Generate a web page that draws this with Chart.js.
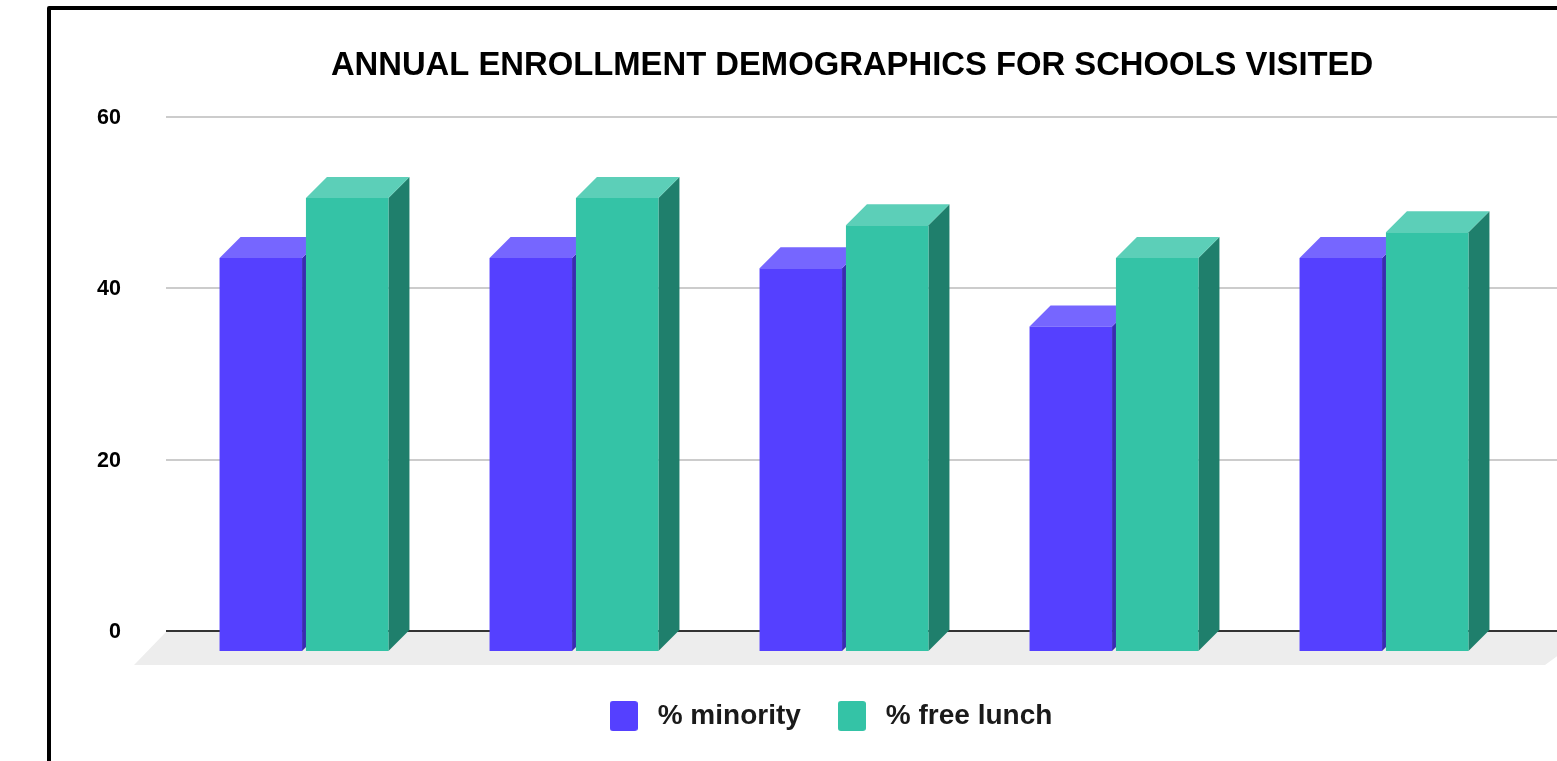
<!DOCTYPE html>
<html>
<head>
<meta charset="utf-8">
<style>
html,body{margin:0;padding:0;background:#fff;overflow:hidden;width:1557px;height:761px}
#wrap{position:relative;width:1557px;height:761px;overflow:hidden}
canvas{position:absolute;left:0;top:0}
#frame{position:absolute;left:47px;top:6px;width:1600px;height:900px;border:4px solid #000;border-radius:2px;pointer-events:none}
</style>
<script src="https://cdn.jsdelivr.net/npm/chart.js@4"></script>
</head>
<body>
<div id="wrap"><canvas id="c" width="1557" height="761"></canvas><div id="frame"></div></div>
<script>
const titleText = 'ANNUAL ENROLLMENT DEMOGRAPHICS FOR SCHOOLS VISITED';
const categories = ['School 1', 'School 2', 'School 3', 'School 4', 'School 5'];
const minority = [46, 46, 44.8, 38, 46];
const freeLunch = [53, 53, 49.8, 46, 49];
const yTicks = [0, 20, 40, 60];

const FONT = '"Liberation Sans", Arial, sans-serif';
const DEPTH = 21;
const faces = [
  { front: '#5540FF', top: '#7666FF', side: '#3A2BB0' },
  { front: '#34C3A6', top: '#5CCFB8', side: '#1F7F6C' }
];

function swatch(color) {
  const s = document.createElement('canvas');
  s.width = 28; s.height = 30;
  const g = s.getContext('2d');
  g.fillStyle = color;
  g.beginPath();
  g.roundRect(0, 0, 28, 30, 3);
  g.fill();
  return s;
}

const depthPlugin = {
  id: 'depth',
  afterLayout(chart) {
    const t = chart.titleBlock, l = chart.legend;
    if (t) { const d = 852 - (t.left + t.right) / 2; t.left += d; t.right += d; }
    if (l) {
      const d = 828 - (l.left + l.right) / 2; l.left += d; l.right += d;
      l.top += 40; l.bottom += 40;
    }
  },
  beforeDraw(chart) {
    const y0 = chart.scales.y.getPixelForValue(0);
    const ctx = chart.ctx;
    ctx.save();
    ctx.fillStyle = '#EDEDED';
    ctx.beginPath();
    ctx.moveTo(166, y0 + 1);
    ctx.lineTo(1590, y0 + 1);
    ctx.lineTo(1545, y0 + 34);
    ctx.lineTo(134, y0 + 34);
    ctx.closePath();
    ctx.fill();
    ctx.restore();
  },
  beforeDatasetsDraw(chart) {
    const ctx = chart.ctx, ys = chart.scales.y, a = chart.chartArea;
    ctx.save();
    ctx.lineWidth = 2;
    yTicks.forEach(v => {
      const p = Math.round(ys.getPixelForValue(v));
      ctx.strokeStyle = v === 0 ? '#333333' : '#CCCCCC';
      ctx.beginPath();
      ctx.moveTo(a.right, p);
      ctx.lineTo(chart.width, p);
      ctx.stroke();
    });
    ctx.restore();

    // depth faces of both series go first, so that the teal fronts cover the purple tops
    ctx.save();
    ctx.translate(0, DEPTH);
    faces.forEach((f, i) => {
      chart.getDatasetMeta(i).data.forEach(el => {
        const l = el.x - el.width / 2, r = el.x + el.width / 2;
        ctx.fillStyle = f.side;
        ctx.beginPath();
        ctx.moveTo(r, el.y);
        ctx.lineTo(r + DEPTH, el.y - DEPTH);
        ctx.lineTo(r + DEPTH, el.base - DEPTH);
        ctx.lineTo(r, el.base);
        ctx.closePath();
        ctx.fill();
        ctx.fillStyle = f.top;
        ctx.beginPath();
        ctx.moveTo(l, el.y);
        ctx.lineTo(l + DEPTH, el.y - DEPTH);
        ctx.lineTo(r + DEPTH, el.y - DEPTH);
        ctx.lineTo(r, el.y);
        ctx.closePath();
        ctx.fill();
      });
    });
    ctx.restore();
  },
  beforeDatasetDraw(chart) {
    chart.ctx.save();
    chart.ctx.translate(0, DEPTH);
  },
  afterDatasetDraw(chart) {
    chart.ctx.restore();
  }
};

new Chart(document.getElementById('c'), {
  type: 'bar',
  data: {
    labels: categories,
    datasets: [
      { label: '% minority', data: minority, backgroundColor: faces[0].front, clip: false,
        categoryPercentage: 0.64, barPercentage: 0.955 },
      { label: '% free lunch', data: freeLunch, backgroundColor: faces[1].front, clip: false,
        categoryPercentage: 0.64, barPercentage: 0.955 }
    ]
  },
  options: {
    responsive: false,
    animation: false,
    devicePixelRatio: 1,
    layout: { padding: { left: 0, right: 38, top: 0, bottom: 61 } },
    scales: {
      x: { display: false },
      y: {
        min: 0, max: 60,
        afterFit(s) { s.width = 169; },
        afterBuildTicks(s) { s.ticks = yTicks.map(v => ({ value: v })); },
        border: { display: false },
        grid: {
          color: c => (c.tick && c.tick.value === 0) ? '#333333' : '#CCCCCC',
          tickColor: c => (c.tick && c.tick.value === 0) ? '#333333' : '#CCCCCC',
          lineWidth: 2, tickWidth: 2, tickLength: 3, drawTicks: true
        },
        ticks: {
          padding: 45, color: '#000', labelOffset: 1,
          font: { family: FONT, size: 21.5, weight: 'bold' }
        }
      }
    },
    plugins: {
      tooltip: { enabled: false },
      title: {
        display: true, text: titleText, color: '#000',
        font: { family: FONT, size: 32.8, weight: 'bold' },
        padding: { top: 46, bottom: 31.6 }
      },
      legend: {
        position: 'bottom',
        labels: {
          usePointStyle: true, pointStyleWidth: 40, padding: 31, color: '#1A1A1A',
          font: { family: FONT, size: 28, weight: 'bold' },
          generateLabels(chart) {
            return Chart.defaults.plugins.legend.labels.generateLabels(chart)
              .map((it, i) => Object.assign(it, { pointStyle: swatch(faces[i].front) }));
          }
        }
      }
    }
  },
  plugins: [depthPlugin]
});
</script>
</body>
</html>
